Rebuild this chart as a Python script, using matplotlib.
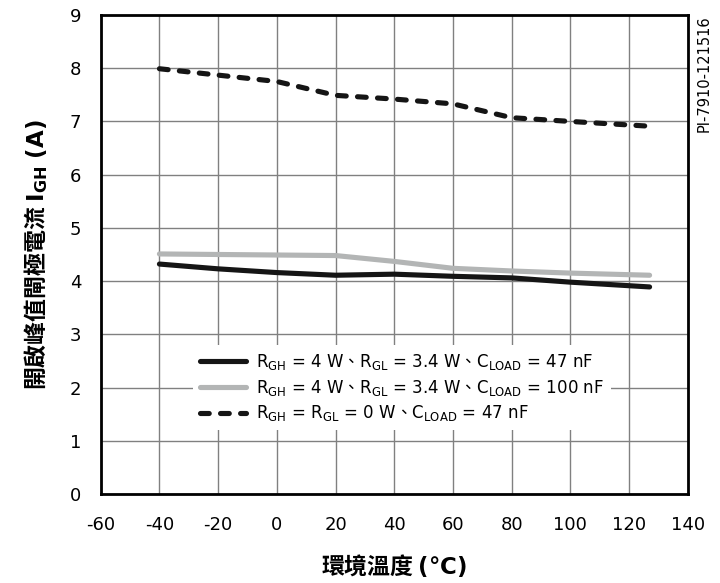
import matplotlib.pyplot as plt

plt.rcParams["font.family"] = ["DejaVu Sans", "Noto Sans CJK TC"]
plt.rcParams["mathtext.fontset"] = "custom"
plt.rcParams["mathtext.rm"] = "DejaVu Sans"
plt.rcParams["mathtext.sf"] = "Noto Sans CJK TC"
plt.rcParams["mathtext.bf"] = "DejaVu Sans:bold"
plt.rcParams["mathtext.default"] = "regular"
plt.rcParams["axes.unicode_minus"] = False

temp = [-40, -20, 0, 20, 40, 60, 80, 100, 127]
i_47nf = [4.32, 4.23, 4.16, 4.11, 4.13, 4.09, 4.06, 3.98, 3.89]
i_100nf = [4.51, 4.50, 4.49, 4.48, 4.37, 4.24, 4.19, 4.15, 4.11]
i_0ohm = [7.99, 7.87, 7.75, 7.49, 7.42, 7.33, 7.07, 7.00, 6.91]

sep = r"$\mathsf{、}$"
labels = [
    r"R$_{GH}$ = 4 W" + sep + r"R$_{GL}$ = 3.4 W" + sep + r"C$_{LOAD}$ = 47 nF",
    r"R$_{GH}$ = 4 W" + sep + r"R$_{GL}$ = 3.4 W" + sep + r"C$_{LOAD}$ = 100 nF",
    r"R$_{GH}$ = R$_{GL}$ = 0 W" + sep + r"C$_{LOAD}$ = 47 nF",
]

fig = plt.figure(figsize=(7.2, 5.83), dpi=100)
ax = fig.add_axes([0.1399, 0.1527, 0.8153, 0.8216])

ax.plot(temp, i_47nf, color="#151515", lw=3.7, solid_capstyle="round", label=labels[0], zorder=3)
ax.plot(temp, i_100nf, color="#b3b5b5", lw=3.7, solid_capstyle="round", label=labels[1], zorder=3)
ax.plot(temp, i_0ohm, color="#151515", lw=3.7, ls=(0, (1.7, 2.2)), dash_capstyle="round",
        label=labels[2], zorder=3)

ax.set_xlim(-60, 140)
ax.set_ylim(0, 9)
ax.set_xticks(range(-60, 141, 20))
ax.set_yticks(range(0, 10))
ax.grid(True, color="#808080", lw=1)
ax.tick_params(length=0, labelsize=13)
ax.tick_params(axis="x", pad=16)
ax.tick_params(axis="y", pad=14)
for s in ax.spines.values():
    s.set_linewidth(2)

ax.set_xlabel(r"環境溫度 $\mathbf{(°C)}$", fontsize=16.5, fontweight="bold", labelpad=13,
              family=["Noto Sans CJK TC"])
ax.set_ylabel(r"開啟峰值閘極電流 $\mathbf{I_{GH}\ (A)}$", fontsize=16.5, fontweight="bold",
              labelpad=14, family=["Noto Sans CJK TC"])

ax.text(1.015, 1.0, "PI-7910-121516", transform=ax.transAxes, rotation=90,
        ha="left", va="top", fontsize=10.5)

leg = ax.legend(loc="upper left", bbox_to_anchor=(0.157, 0.311), frameon=True,
                fontsize=12, handlelength=2.8, labelspacing=0.35,
                borderpad=0.4, handletextpad=0.6, borderaxespad=0)
leg.get_frame().set_edgecolor("none")
leg.get_frame().set_facecolor("white")
leg.get_frame().set_alpha(1)
leg.get_frame().set_boxstyle("square", pad=0)

fig.savefig("out.png", dpi=100)
